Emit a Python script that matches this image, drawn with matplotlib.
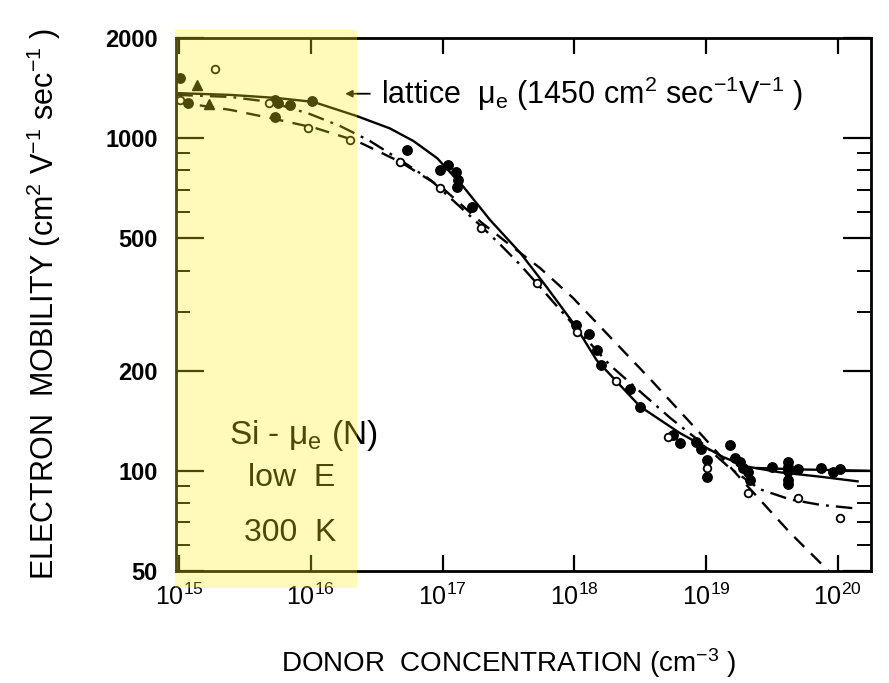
import numpy as np
import matplotlib
matplotlib.use('Agg')
import matplotlib.pyplot as plt
from matplotlib.patches import Rectangle

plt.rcParams['font.family'] = ['Liberation Sans', 'DejaVu Sans']
plt.rcParams['mathtext.fontset'] = 'custom'
plt.rcParams['mathtext.rm'] = 'Liberation Sans'
plt.rcParams['mathtext.it'] = 'Liberation Sans:italic'

# x values are log10 of donor concentration (cm^-3), y values are mobility (cm^2/Vs)
solid_logn = [15.0, 15.39, 15.74, 16.02, 16.35, 16.60, 16.78, 16.96, 17.16, 17.36,
              17.59, 17.79, 18.01, 18.17, 18.50, 18.80, 19.13, 19.31, 19.56, 19.87, 20.15]
solid_mu = [1365, 1349, 1321, 1285, 1165, 1070, 980, 870, 713, 568,
            452, 357, 272, 215, 156, 130, 110, 103, 99, 96, 93]

flat_logn = [19.39, 19.70, 20.0, 20.25]
flat_mu = [102, 101, 100.5, 100]

dashed_logn = [14.98, 15.39, 15.69, 16.03, 16.35, 16.68, 17.0, 17.29, 17.51, 17.74,
               17.99, 18.27, 18.58, 18.96, 19.26, 19.64, 19.93]
dashed_mu = [1285, 1216, 1150, 1074, 980, 848, 708, 560, 478, 407,
             331, 253, 188, 129, 95, 65, 50]

dashdot_logn = [14.98, 15.39, 15.69, 15.99, 16.22, 16.45, 16.68, 16.91, 17.16, 17.29,
                17.44, 17.59, 17.74, 18.01, 18.27, 18.50, 18.73, 18.96, 19.18, 19.41,
                19.64, 19.87, 20.15]
dashdot_mu = [1349, 1330, 1285, 1183, 1089, 980, 859, 748, 608, 545,
              478, 416, 357, 270, 208, 173, 144, 122, 102, 88,
              82, 79, 77]

filled_logn = [15.01, 15.07, 15.73, 15.75, 15.84, 16.01, 15.73, 16.73, 16.98, 17.04,
               17.10, 17.12, 17.11, 17.22, 18.01, 18.11, 18.17, 18.20, 18.42, 18.50,
               18.75, 18.80, 18.92, 18.96, 19.01, 19.01, 19.18, 19.22, 19.26, 19.28,
               19.32, 19.33, 19.50, 19.62, 19.62, 19.62, 19.62, 19.62, 19.70, 19.87,
               19.96, 20.02]
filled_mu = [1517, 1276, 1302, 1276, 1259, 1294, 1158, 921, 802, 830,
             791, 748, 713, 621, 274, 258, 231, 208, 176, 156,
             128, 121, 122, 116, 108, 96, 120, 109, 106, 102,
             99, 94, 103, 106, 103, 100, 94, 91, 101, 102,
             99, 101]

open_logn = [15.27, 15.01, 15.68, 15.98, 16.30, 16.68, 16.98, 17.29, 17.72, 18.02,
             18.32, 18.71, 19.01, 19.32, 19.70, 20.02]
open_mu = [1610, 1302, 1276, 1074, 987, 848, 708, 537, 367, 261,
           186, 126, 102, 86, 83, 72]

tri_logn = [15.14, 15.23]
tri_mu = [1445, 1267]

yticks = [50, 100, 200, 500, 1000, 2000]
xticks = [1e15, 1e16, 1e17, 1e18, 1e19, 1e20]
xlabels = ['$10^{15}$', '$10^{16}$', '$10^{17}$', '$10^{18}$', '$10^{19}$', '$10^{20}$']

fig = plt.figure(figsize=(8.89, 6.83), dpi=100)
ax = fig.add_axes([176 / 889, 112 / 683, 695 / 889, 533 / 683])

ax.set_xscale('log')
ax.set_yscale('log')
ax.set_xlim(10 ** 14.977, 10 ** 20.252)
ax.set_ylim(50, 2000)

lw = 1.7
ax.plot(10 ** np.array(solid_logn), solid_mu, color='black', lw=lw)
ax.plot(10 ** np.array(flat_logn), flat_mu, color='black', lw=lw)
ax.plot(10 ** np.array(dashed_logn), dashed_mu, color='black', lw=lw, dashes=(6, 4))
ax.plot(10 ** np.array(dashdot_logn), dashdot_mu, color='black', lw=lw, dashes=(7, 3, 1.2, 3))

ax.plot(10 ** np.array(filled_logn), filled_mu, 'o', color='black', ms=6.8)
ax.plot(10 ** np.array(open_logn), open_mu, 'o', mfc='white', mec='black', ms=5.5, mew=1.3)
ax.plot(10 ** np.array(tri_logn), tri_mu, '^', color='black', ms=7)

ax.set_yticks(yticks)
ax.set_yticklabels([str(v) for v in yticks])
ax.set_xticks(xticks)
ax.set_xticklabels(xlabels)
ax.minorticks_off()
ax.set_yticks([60, 70, 80, 90, 300, 400, 600, 700, 800, 900], minor=True)
ax.xaxis.set_minor_locator(matplotlib.ticker.NullLocator())

ax.tick_params(axis='both', which='both', direction='in', top=True, right=True)
ax.tick_params(axis='x', which='major', length=11.5, width=1.6, pad=9, labelsize=18)
ax.tick_params(axis='y', which='major', length=20, width=1.6, pad=13, labelsize=17)
ax.tick_params(axis='y', which='minor', length=10, width=1.4)
for lab in ax.get_yticklabels():
    lab.set_fontweight('bold')
for sp in ax.spines.values():
    sp.set_linewidth(2)

# lattice annotation
ax.annotate('', xy=(10 ** 16.24, 1360), xytext=(10 ** 16.47, 1360),
            arrowprops=dict(arrowstyle='-|>', color='black', lw=1.3, mutation_scale=10))
ax.text(10 ** 16.53, 1360,
        r'lattice  μ$_\mathregular{e}$ (1450 cm$^\mathregular{2}$ sec$^\mathregular{-1}$V$^\mathregular{-1}$ )',
        fontsize=22, va='center', ha='left')

ax.text(0.183, 0.255, r'Si - μ$_\mathregular{e}$ (N)', transform=ax.transAxes,
        fontsize=24, ha='center', va='center')
ax.text(0.167, 0.174, 'low  E', transform=ax.transAxes, fontsize=23, ha='center', va='center')
ax.text(0.165, 0.071, '300  K', transform=ax.transAxes, fontsize=23, ha='center', va='center')

fig.text(44 / 889, 1 - 304 / 683,
         r'ELECTRON  MOBILITY (cm$^\mathregular{2}$ V$^\mathregular{-1}$ sec$^\mathregular{-1}$ )',
         rotation=90, fontsize=22, ha='center', va='center')
fig.text(509 / 889, 1 - 663 / 683, r'DONOR  CONCENTRATION (cm$^\mathregular{-3}$ )',
         fontsize=20, ha='center', va='center')

# yellow highlight over the low-concentration region
fig.patches.append(Rectangle((175 / 889, 95 / 683), 182 / 889, 558 / 683,
                             transform=fig.transFigure, facecolor=(1.0, 0.94, 0.1),
                             alpha=0.3, edgecolor='none', zorder=10, figure=fig))

fig.savefig('out.png', dpi=100)
